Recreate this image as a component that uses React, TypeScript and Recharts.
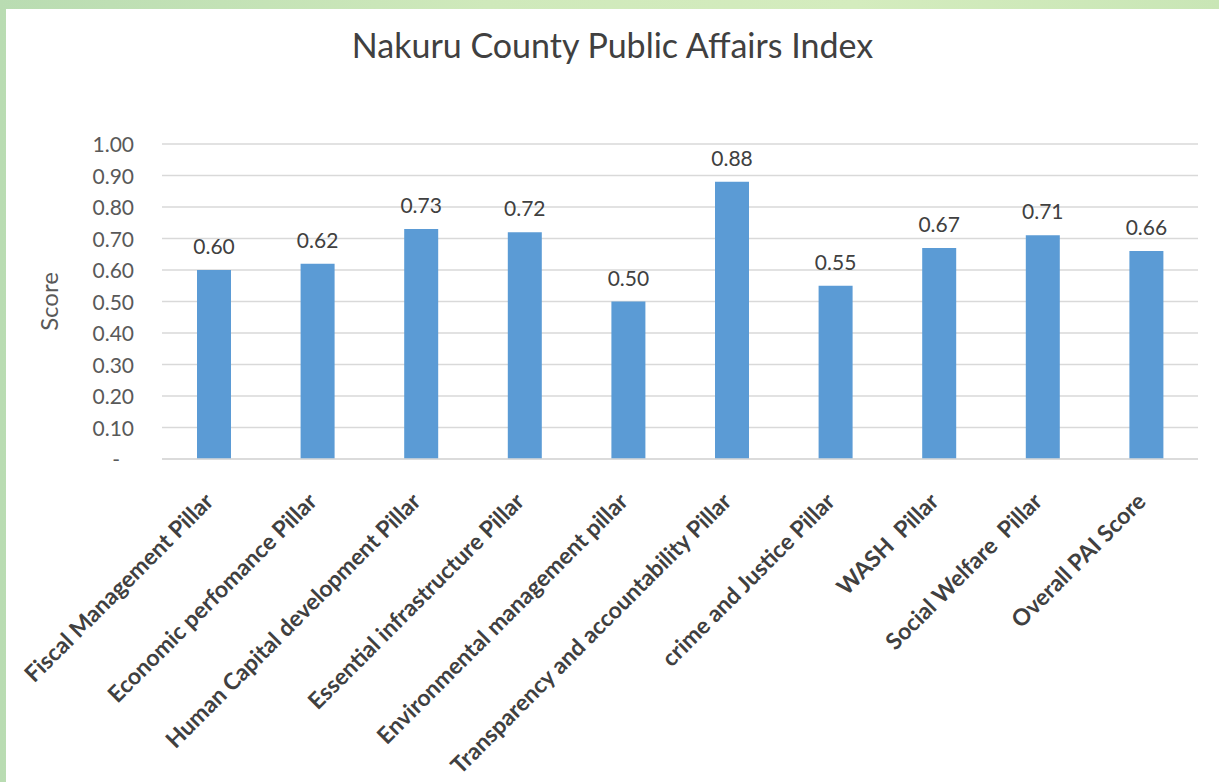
import React from 'react';
import { BarChart, Bar, XAxis, YAxis, CartesianGrid, LabelList } from 'recharts';

const pillars = [
  'Fiscal Management Pillar',
  'Economic perfomance Pillar',
  'Human Capital development Pillar',
  'Essential infrastructure Pillar',
  'Environmental management pillar',
  'Transparency and accountability Pillar',
  'crime and Justice Pillar',
  'WASH  Pillar',
  'Social Welfare  Pillar',
  'Overall PAI Score',
];
const scores = [0.6, 0.62, 0.73, 0.72, 0.5, 0.88, 0.55, 0.67, 0.71, 0.66];
const yTicks = [0, 0.1, 0.2, 0.3, 0.4, 0.5, 0.6, 0.7, 0.8, 0.9, 1.0];

const chartData = pillars.map((name, i) => ({ name, score: scores[i] }));

const FONT = 'Lato, "Open Sans", sans-serif';

const XTick = (props: any) => {
  const { x, y, payload } = props;
  return (
    <g transform={`translate(${x + 1},${y + 36})`}>
      <text
        textAnchor="end"
        transform="rotate(-45)"
        fontFamily={FONT}
        fontWeight={700}
        fontSize={23}
        fill="#404040"
        style={{ whiteSpace: 'pre' }}
      >
        {payload.value}
      </text>
    </g>
  );
};

const YTick = (props: any) => {
  const { x, y, payload } = props;
  const zero = payload.value === 0;
  return (
    <text
      x={zero ? x - 14 : x}
      y={y}
      dy={8}
      textAnchor="end"
      fontFamily={FONT}
      fontSize={21}
      fill="#595959"
    >
      {zero ? '-' : payload.value.toFixed(2)}
    </text>
  );
};

const ScoreLabel = (props: any) => {
  const { viewBox } = props;
  const cx = viewBox.x + 52;
  const cy = viewBox.y + viewBox.height / 2;
  return (
    <text
      x={cx}
      y={cy}
      textAnchor="middle"
      transform={`rotate(-90, ${cx}, ${cy})`}
      fontFamily={FONT}
      fontSize={24}
      fill="#595959"
    >
      Score
    </text>
  );
};

export default function App() {
  return (
    <div
      style={{
        position: 'fixed',
        left: 0,
        top: 0,
        width: 1219,
        height: 782,
        background: 'linear-gradient(90deg, #b9dcb2 0%, #cfe9bb 40%, #d4ecbe 70%, #c9e6b6 100%)',
      }}
    >
      <div
        style={{
          position: 'absolute',
          left: 6,
          top: 9,
          width: 1213,
          height: 773,
          background: '#ffffff',
        }}
      >
        <div
          style={{
            position: 'absolute',
            left: 0,
            top: 15,
            width: 1213,
            textAlign: 'center',
            fontFamily: FONT,
            fontSize: 34,
            color: '#404040',
          }}
        >
          Nakuru County Public Affairs Index
        </div>
        <BarChart
          width={1213}
          height={773}
          data={chartData}
          margin={{ top: 135, right: 21, bottom: 0, left: 0 }}
          barSize={34}
        >
          <CartesianGrid vertical={false} stroke="#d9d9d9" strokeWidth={1.5} />
          <XAxis
            dataKey="name"
            interval={0}
            height={323}
            axisLine={{ stroke: '#d9d9d9', strokeWidth: 1.5 }}
            tickLine={false}
            tick={<XTick />}
          />
          <YAxis
            width={156}
            domain={[0, 1]}
            ticks={yTicks}
            axisLine={false}
            tickLine={false}
            tickSize={0}
            tickMargin={28}
            tick={<YTick />}
            label={<ScoreLabel />}
          />
          <Bar dataKey="score" fill="#5b9bd5" isAnimationActive={false}>
            <LabelList
              dataKey="score"
              position="top"
              offset={16}
              formatter={(v: any) => Number(v).toFixed(2)}
              fontFamily={FONT}
              fontSize={21}
              fill="#404040"
            />
          </Bar>
        </BarChart>
      </div>
    </div>
  );
}
